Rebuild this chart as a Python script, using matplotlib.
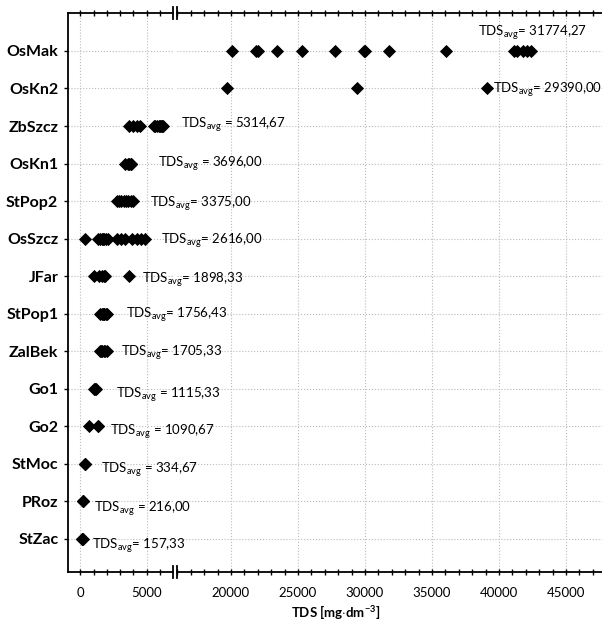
import matplotlib
matplotlib.use("Agg")
import matplotlib.pyplot as plt
import numpy as np

plt.rcParams['font.family'] = ['Lato', 'DejaVu Sans']
plt.rcParams['mathtext.fontset'] = 'custom'
plt.rcParams['mathtext.rm'] = 'Lato'
plt.rcParams['mathtext.it'] = 'Lato:italic'
plt.rcParams['mathtext.bf'] = 'Lato:bold'

# stations, bottom to top
stations = ['StZac', 'PRoz', 'StMoc', 'Go2', 'Go1', 'ZalBek', 'StPop1',
            'JFar', 'OsSzcz', 'StPop2', 'OsKn1', 'ZbSzcz', 'OsKn2', 'OsMak']

# TDS values [mg/dm3]
tds_values = [
    [140, 150, 182],
    [200, 216, 232],
    [320, 334, 350],
    [650, 1300, 1322],
    [1050, 1100, 1196],
    [1450, 1550, 1650, 1750, 1850, 1982],
    [1500, 1600, 1700, 1750, 1800, 1900, 2045],
    [1050, 1400, 1600, 1800, 1840, 3700],
    [350, 1300, 1500, 1600, 1700, 1800, 1900, 2100, 2800, 3100, 3400, 3890,
     4300, 4600, 4900],
    [2800, 2950, 3100, 3300, 3450, 3600, 3800, 4000],
    [3400, 3600, 3700, 3800, 3850, 3826],
    [3700, 4000, 4250, 4480, 5550, 5650, 5800, 5900, 6000, 6100, 6150, 6196],
    [19700, 29400, 39070],
    [20050, 21900, 22000, 23460, 25280, 27760, 29900, 30000, 31790, 36020,
     41140, 41320, 41810, 42070, 42370],
]
tds_avg = [157.33, 216.00, 334.67, 1090.67, 1115.33, 1705.33, 1756.43,
           1898.33, 2616.00, 3375.00, 3696.00, 5314.67, 29390.00, 31774.27]
avg_space = [False, True, True, True, True, False, False, False, False, False,
             True, True, False, False]

# label placement (x in data units, y offset in rows)
label_x = [858, 1030, 1560, 2236, 2665, 3040, 3440, 4670, 6077, 5250, 5873,
           7560, 39550, 38410]
label_dy = [-0.27, -0.27, -0.25, -0.24, -0.25, -0.13, -0.11, -0.18, -0.13,
            -0.16, -0.10, -0.06, -0.12, 0.40]

W, H = 602, 626
fig = plt.figure(figsize=(W / 100, H / 100), dpi=100)
bottom = (H - 572) / H
height = (572 - 13) / H
ax1 = fig.add_axes([68 / W, bottom, (173 - 68) / W, height])
ax2 = fig.add_axes([177 / W, bottom, (602 - 177) / W, height])
# left part on top so its labels can run over the break
ax1.set_zorder(2)
ax1.patch.set_visible(False)

ypos = np.arange(len(stations))
for ax in (ax1, ax2):
    for y, vals in zip(ypos, tds_values):
        ax.plot(vals, [y] * len(vals), 'D', color='black', ms=5.8,
                markeredgewidth=0.6, zorder=3)
    ax.set_ylim(-0.88, len(stations) - 1 + 1.01)
    ax.set_xticks(np.arange(0, 50001, 5000))
    ax.set_xticks(np.arange(0, 50001, 1000), minor=True)
    ax.set_yticks(ypos)
    ax.grid(True, which='major', color='#bbbbbb', ls=':', lw=0.8)
    ax.tick_params(axis='x', which='both', top=True, direction='inout',
                   labelsize=9.5, pad=8)
    ax.tick_params(axis='x', which='major', length=5, width=1)
    ax.tick_params(axis='x', which='minor', length=4, width=1)
    ax.spines['right'].set_visible(False)
    for s in ('top', 'bottom', 'left'):
        ax.spines[s].set_linewidth(1.3)
    ax.set_axisbelow(True)

ax1.set_xlim(-926, 6980)
ax2.set_xlim(15970, 47690)
ax1.set_yticklabels(stations, fontweight='bold', fontsize=11.5)
ax1.tick_params(axis='y', direction='out', length=3, width=1, pad=4)
ax2.tick_params(axis='y', left=False, labelleft=False)
ax2.spines['left'].set_visible(False)

# labels with averages
for i, (y, avg) in enumerate(zip(ypos, tds_avg)):
    eq = ' = ' if avg_space[i] else '= '
    txt = r'TDS$_{\mathrm{avg}}$' + eq + f'{avg:.2f}'.replace('.', ',')
    ax = ax2 if avg > 10000 else ax1
    ax.text(label_x[i], y + label_dy[i], txt, fontsize=9.5, ha='left',
            va='baseline', clip_on=False, zorder=4)

# axis break marks
for ax, xa in ((ax1, 1.0), (ax2, 0.0)):
    for ya in (0.0, 1.0):
        ax.plot([xa, xa], [ya - 0.011, ya + 0.011], color='black', lw=1.3,
                transform=ax.transAxes, clip_on=False)

fig.text(336 / W, 1 - 612 / H, r'TDS [mg$\cdot$dm$^{\mathbf{-3}}$]',
         ha='center', va='center', fontsize=9.5, fontweight='bold')

fig.savefig('out.png', dpi=100)
